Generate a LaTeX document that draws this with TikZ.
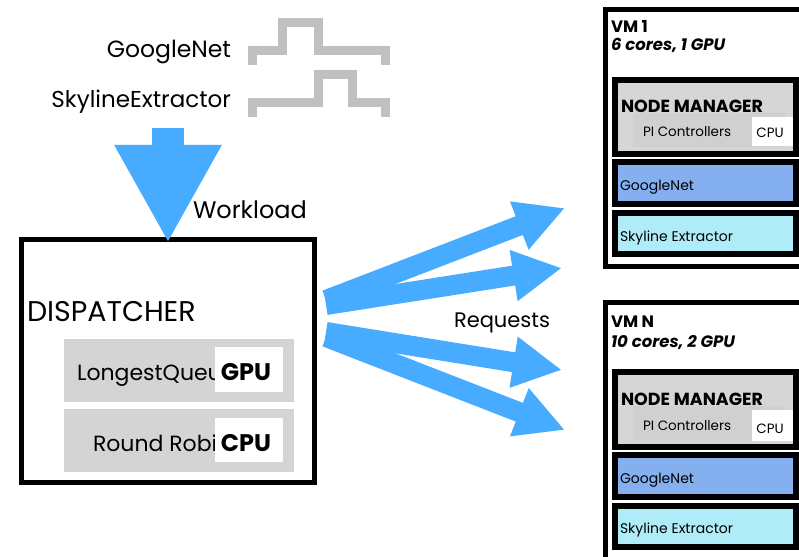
\documentclass[tikz,border=0pt]{standalone}
\usepackage{fontspec}
\setmainfont{Poppins}
\usetikzlibrary{arrows.meta}
\definecolor{flow}{HTML}{47ACFF}
\definecolor{wave}{HTML}{C0C0C0}
\definecolor{policy}{HTML}{D4D4D4}
\definecolor{mgr}{HTML}{D6D6D6}
\definecolor{ctrl}{HTML}{D0D0D0}
\definecolor{gnet}{HTML}{84B0F0}
\definecolor{sky}{HTML}{B0ECF8}
\newcommand{\fsz}[1]{\fontsize{#1}{#1}\selectfont}
\begin{document}
\begin{tikzpicture}[x=1pt,y=-1pt,
  every node/.style={inner sep=0pt,outer sep=0pt},
  frame/.style={draw=black,line width=#1,anchor=north west},
  panel/.style={fill=#1,anchor=north west},
  trace/.style={draw=wave,line width=9pt,miter limit=10},
  bigflow/.style={draw=flow,line width=32pt,-{Triangle[length=98pt,width=100pt]}},
  reqflow/.style={draw=flow,line width=20pt,-{Triangle[length=49pt,width=48pt]}},
  lbl/.style={anchor=base west,font=\fsz{#1}},
  rlbl/.style={anchor=base east,font=\fsz{#1}},
]
\useasboundingbox (0,0) rectangle (799,556);
\begin{scope}
\clip (0,0) rectangle (799,556);

% workload traces
\draw[trace] (252,65) -- (252,51) -- (282,51) -- (282,23) -- (318,23) -- (318,51) -- (385,51) -- (385,65);
\draw[trace] (252,117) -- (252,103) -- (318,103) -- (318,75) -- (352,75) -- (352,103) -- (385,103) -- (385,117);
\node[rlbl=23.5] (tg) at (231,58) {GoogleNet};
\node[rlbl=23] (ts) at (231,108) {SkylineExtractor};

% dispatcher
\node[frame=5pt,minimum width=293pt,minimum height=243pt] (disp) at (21.5,239.5) {};
\node[lbl=28.5] (dtitle) at (27,321) {DISPATCHER};
\node[panel=policy,minimum width=230pt,minimum height=63pt] (lq) at (64,339) {};
\node[panel=policy,minimum width=230pt,minimum height=63pt] (rr) at (64,409) {};
\begin{scope}
\clip (64,339) rectangle (215,472);
\node[lbl=22] (lqt) at (77,380) {LongestQueu};
\node[lbl=22] (rrt) at (93,451) {Round Robi};
\end{scope}
\node[panel=white,minimum width=68pt,minimum height=45pt] (gpub) at (215,347) {};
\node[panel=white,minimum width=68pt,minimum height=44pt] (cpub) at (215,418) {};
\node[anchor=base,font=\fsz{24}\bfseries] at (246,380) {GPU};
\node[anchor=base,font=\fsz{24}\bfseries] at (246,451) {CPU};

% incoming workload
\coordinate (wtop) at (168,128);
\draw[bigflow,shorten >=-3.5pt] (wtop) -- (disp.north);
\node[lbl=24] (wl) at (193,218) {Workload};

% requests
\coordinate (r1s) at (326,300);
\coordinate (r2s) at (326,305);
\coordinate (r3s) at (326,332);
\coordinate (r4s) at (326,337);
\coordinate (r1e) at (565,208);
\coordinate (r2e) at (562,268);
\coordinate (r3e) at (562,370);
\coordinate (r4e) at (565,430);
\draw[reqflow] (r1s) -- (r1e);
\draw[reqflow] (r2s) -- (r2e);
\draw[reqflow] (r3s) -- (r3e);
\draw[reqflow] (r4s) -- (r4e);
\node[lbl=21] (rq) at (454,327) {Requests};

% VM 1
\node[frame=5pt,minimum width=200pt,minimum height=256pt] (vm1) at (605.5,10) {};
\node[lbl=16.5,font=\fsz{16.5}\bfseries] at (611,33) {VM 1};
\node[lbl=16.5,font=\fsz{16.5}\bfseries\itshape] at (611,51) {6 cores, 1 GPU};
\node[frame=6pt,fill=mgr,minimum width=181pt,minimum height=74pt] (nm1) at (615,80) {};
\node[panel=ctrl,minimum width=153pt,minimum height=34pt] (pi1) at (633,113) {};
\node[panel=white,minimum width=41pt,minimum height=29pt] (c1) at (752,117) {};
\node[lbl=17.5,font=\fsz{17.5}\bfseries] at (621,113) {NODE MANAGER};
\node[lbl=13.5] at (643,137) {PI Controllers};
\node[anchor=base,font=\fsz{13.5}] at (770,138) {CPU};
\node[frame=6pt,fill=gnet,minimum width=181pt,minimum height=42pt] (g1) at (615,162) {};
\node[lbl=14] at (620,190) {GoogleNet};
\node[frame=6pt,fill=sky,minimum width=181pt,minimum height=41pt] (s1) at (615,213) {};
\node[lbl=14] at (620,241) {Skyline Extractor};

% VM N
\node[frame=5pt,minimum width=200pt,minimum height=300pt] (vmn) at (605.5,302.5) {};
\node[lbl=16.5,font=\fsz{16.5}\bfseries] at (611,327) {VM N};
\node[lbl=16.5,font=\fsz{16.5}\bfseries\itshape] at (611,347) {10 cores, 2 GPU};
\node[frame=6pt,fill=mgr,minimum width=181pt,minimum height=75pt] (nm2) at (615,372) {};
\node[panel=ctrl,minimum width=153pt,minimum height=34pt] (pi2) at (633,406) {};
\node[panel=white,minimum width=41pt,minimum height=31pt] (c2) at (752,410) {};
\node[lbl=17.5,font=\fsz{17.5}\bfseries] at (621,405) {NODE MANAGER};
\node[lbl=13.5] at (643,430) {PI Controllers};
\node[anchor=base,font=\fsz{13.5}] at (770,433) {CPU};
\node[frame=6pt,fill=gnet,minimum width=181pt,minimum height=42pt] (g2) at (615,455) {};
\node[lbl=14] at (620,483) {GoogleNet};
\node[frame=6pt,fill=sky,minimum width=181pt,minimum height=41pt] (s2) at (615,506) {};
\node[lbl=14] at (620,533) {Skyline Extractor};
\end{scope}
\end{tikzpicture}
\end{document}
